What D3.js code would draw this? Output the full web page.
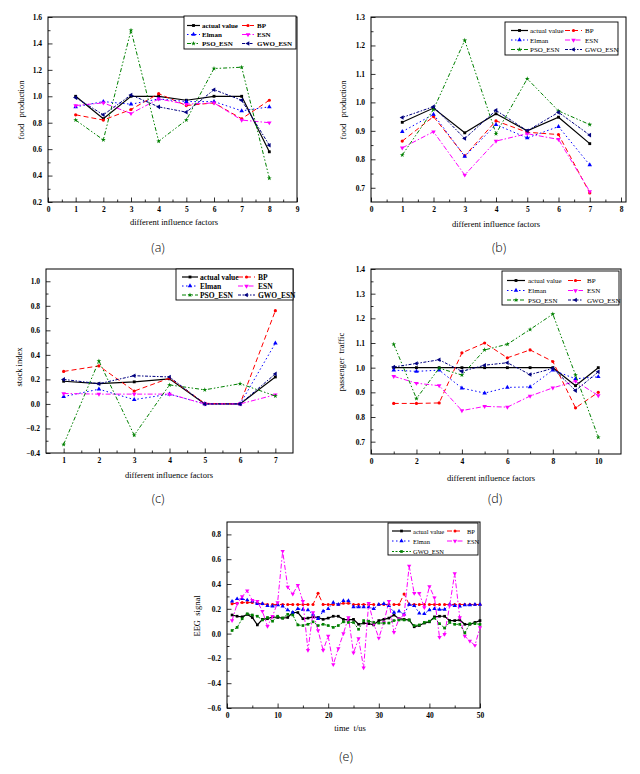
<!DOCTYPE html>
<html>
<head>
<meta charset="utf-8">
<script src="https://cdn.jsdelivr.net/npm/d3@7"></script>
<style>
body { margin: 0; background: #fff; }
svg { display: block; }
</style>
</head>
<body>
<script>
// ---- data ----
var xA = [1, 2, 3, 4, 5, 6, 7, 8];
var actualA = [1.00, 0.83, 1.00, 1.00, 0.97, 1.00, 1.00, 0.58];
var bpA     = [0.86, 0.82, 0.90, 1.02, 0.93, 0.95, 0.83, 0.97];
var elmanA  = [0.92, 0.96, 0.94, 0.98, 0.96, 0.96, 0.89, 0.92];
var esnA    = [0.93, 0.95, 0.87, 0.98, 0.94, 0.95, 0.82, 0.80];
var psoA    = [0.82, 0.67, 1.50, 0.66, 0.82, 1.21, 1.22, 0.38];
var gwoA    = [0.99, 0.86, 1.01, 0.92, 0.88, 1.05, 0.97, 0.63];

var xB = [1, 2, 3, 4, 5, 6, 7];
var actualB = [0.930, 0.980, 0.893, 0.960, 0.900, 0.948, 0.855];
var bpB     = [0.864, 0.950, 0.812, 0.935, 0.895, 0.887, 0.682];
var elmanB  = [0.897, 0.958, 0.810, 0.922, 0.875, 0.915, 0.780];
var esnB    = [0.840, 0.897, 0.745, 0.864, 0.890, 0.870, 0.687];
var psoB    = [0.815, 0.975, 1.218, 0.890, 1.083, 0.970, 0.922];
var gwoB    = [0.947, 0.985, 0.873, 0.972, 0.900, 0.965, 0.885];

var xC = [1, 2, 3, 4, 5, 6, 7];
var actualC = [0.185, 0.165, 0.180, 0.205, 0.000, 0.000, 0.220];
var bpC     = [0.265, 0.310, 0.105, 0.210, 0.005, 0.000, 0.760];
var elmanC  = [0.060, 0.120, 0.035, 0.080, 0.000, 0.000, 0.495];
var esnC    = [0.085, 0.080, 0.080, 0.080, 0.000, 0.000, 0.075];
var psoC    = [-0.330, 0.350, -0.255, 0.155, 0.115, 0.165, 0.065];
var gwoC    = [0.200, 0.165, 0.230, 0.220, 0.000, 0.000, 0.245];

var xD = [1, 2, 3, 4, 5, 6, 7, 8, 9, 10];
var actualD = [1.000, 1.000, 1.000, 1.000, 1.000, 1.000, 1.000, 1.000, 0.927, 1.000];
var bpD     = [0.855, 0.855, 0.857, 1.060, 1.100, 1.040, 1.072, 1.025, 0.837, 0.900];
var elmanD  = [0.990, 0.985, 0.990, 0.917, 0.897, 0.920, 0.922, 0.990, 0.955, 0.963];
var esnD    = [0.965, 0.937, 0.927, 0.826, 0.843, 0.840, 0.885, 0.918, 0.945, 0.887];
var psoD    = [1.095, 0.875, 0.998, 0.970, 1.072, 1.095, 1.155, 1.217, 0.970, 0.718];
var gwoD    = [1.003, 1.017, 1.032, 0.985, 1.010, 1.020, 0.972, 0.997, 0.907, 0.983];

var xE = d3.range(1, 51);
var actualE = [0.150, 0.140, 0.135, 0.155, 0.130, 0.070, 0.115, 0.120, 0.135, 0.130,
               0.125, 0.130, 0.170, 0.170, 0.120, 0.125, 0.135, 0.130, 0.115, 0.125,
               0.140, 0.140, 0.115, 0.110, 0.115, 0.075, 0.085, 0.080, 0.070, 0.105,
               0.115, 0.125, 0.150, 0.120, 0.115, 0.110, 0.055, 0.065, 0.085, 0.095,
               0.135, 0.140, 0.140, 0.105, 0.105, 0.110, 0.075, 0.075, 0.090, 0.105];
var bpE     = [0.240, 0.245, 0.250, 0.250, 0.250, 0.245, 0.240, 0.235, 0.235, 0.235,
               0.235, 0.235, 0.235, 0.235, 0.235, 0.235, 0.235, 0.325, 0.235, 0.235,
               0.235, 0.235, 0.245, 0.245, 0.235, 0.235, 0.235, 0.235, 0.235, 0.235,
               0.235, 0.235, 0.235, 0.235, 0.320, 0.235, 0.235, 0.235, 0.235, 0.235,
               0.235, 0.235, 0.235, 0.235, 0.235, 0.235, 0.235, 0.235, 0.235, 0.235];
var elmanE  = [0.260, 0.280, 0.280, 0.270, 0.260, 0.240, 0.240, 0.225, 0.220, 0.230,
               0.220, 0.190, 0.170, 0.200, 0.195, 0.190, 0.155, 0.120, 0.180, 0.200,
               0.250, 0.235, 0.265, 0.265, 0.215, 0.215, 0.215, 0.215, 0.200, 0.235,
               0.240, 0.225, 0.170, 0.180, 0.155, 0.235, 0.225, 0.165, 0.160, 0.190,
               0.200, 0.195, 0.195, 0.235, 0.225, 0.220, 0.230, 0.230, 0.235, 0.235];
var esnE    = [0.105, 0.240, 0.300, 0.345, 0.270, 0.260, 0.180, 0.060, 0.140, 0.250,
               0.665, 0.375, 0.320, 0.390, 0.260, -0.135, 0.170, 0.025, -0.135, -0.020,
               -0.250, -0.120, 0.000, 0.130, -0.155, -0.040, -0.275, 0.245, 0.080, -0.035,
               0.090, 0.260, 0.010, 0.120, 0.150, 0.545, 0.325, 0.325, 0.210, 0.380,
               0.290, -0.030, -0.005, 0.225, 0.485, 0.130, -0.020, -0.060, -0.095, 0.050];
var gwoE    = [0.025, 0.050, 0.120, 0.160, 0.150, 0.140, 0.110, 0.130, 0.100, 0.140,
               0.125, 0.155, 0.150, 0.070, 0.065, 0.075, 0.095, 0.065, 0.075, 0.065,
               0.050, 0.065, 0.095, 0.090, 0.090, 0.035, 0.105, 0.100, 0.090, 0.085,
               0.085, 0.085, 0.105, 0.110, 0.110, 0.110, 0.065, 0.070, 0.090, 0.100,
               0.125, 0.080, 0.045, 0.090, 0.075, 0.075, 0.005, 0.080, 0.080, 0.075];

// ---- look of each series ----
var styles = {
    actual: {label: 'actual value', color: '#000000', dash: null, sym: d3.symbolSquare, rot: 0, w: 1.2, k: 0.9},
    bp:     {label: 'BP', color: '#ff0000', dash: '5,3', sym: d3.symbolCircle, rot: 0, w: 1, k: 0.9},
    elman:  {label: 'Elman', color: '#0000ff', dash: '1.5,2.5', sym: d3.symbolTriangle, rot: 0, w: 1, k: 1},
    esn:    {label: 'ESN', color: '#ff00ff', dash: '5,2,1.5,2', sym: d3.symbolTriangle, rot: 180, w: 1, k: 1},
    pso:    {label: 'PSO_ESN', color: '#008000', dash: '4,2,1.5,2,1.5,2', sym: d3.symbolStar, rot: 0, w: 1, k: 0.8},
    gwo:    {label: 'GWO_ESN', color: '#000080', dash: '3,1.5,1.5,1.5', sym: d3.symbolTriangle, rot: -90, w: 1, k: 1},
    gwoE:   {label: 'GWO_ESN', color: '#008000', dash: '2,1.5', sym: d3.symbolSquare, rot: 0, w: 1, k: 0.9}
};

var W = 640, H = 774;
var svg = d3.select('body').append('svg').attr('width', W).attr('height', H);

var tickFont = 'Liberation Serif, Times New Roman, serif';

function drawPanel(p) {
    var x = d3.scaleLinear().domain(p.xDomain).range([p.left, p.right]);
    var y = d3.scaleLinear().domain(p.yDomain).range([p.bottom, p.top]);
    var g = svg.append('g');
    var symSize = p.symSize || 9;

    // minor ticks
    g.append('g').attr('transform', 'translate(0,' + p.bottom + ')')
        .call(d3.axisBottom(x).tickValues(p.xMinor).tickSize(-2.5).tickSizeOuter(0).tickFormat(''));
    g.append('g').attr('transform', 'translate(' + p.left + ',0)')
        .call(d3.axisLeft(y).tickValues(p.yMinor).tickSize(-2.5).tickSizeOuter(0).tickFormat(''));

    // major ticks
    g.append('g').attr('transform', 'translate(0,' + p.bottom + ')')
        .call(d3.axisBottom(x).tickValues(p.xTicks).tickSize(-4.5).tickSizeOuter(0).tickPadding(5)
            .tickFormat(d3.format('d')));
    g.append('g').attr('transform', 'translate(' + p.left + ',0)')
        .call(d3.axisLeft(y).tickValues(p.yTicks).tickSize(-4.5).tickSizeOuter(0).tickPadding(6)
            .tickFormat(d3.format('.1f')));
    g.selectAll('.tick text')
        .attr('font-family', tickFont).attr('font-weight', 'bold')
        .attr('font-size', 7.5).attr('fill', '#000');
    g.selectAll('.tick line').attr('stroke', '#000').attr('stroke-width', 0.8);
    g.selectAll('.domain').remove();

    g.append('rect')
        .attr('x', p.left).attr('y', p.top)
        .attr('width', p.right - p.left).attr('height', p.bottom - p.top)
        .attr('fill', 'none').attr('stroke', '#000').attr('stroke-width', 1);

    // series
    p.series.forEach(function (s) {
        var st = styles[s.key];
        var pts = p.xs.map(function (xv, i) { return [xv, s.values[i]]; });
        g.append('path')
            .datum(pts)
            .attr('fill', 'none')
            .attr('stroke', st.color)
            .attr('stroke-width', st.w)
            .attr('stroke-dasharray', st.dash)
            .attr('d', d3.line().x(function (d) { return x(d[0]); }).y(function (d) { return y(d[1]); }));
        g.append('g').selectAll('path')
            .data(pts)
            .join('path')
            .attr('d', d3.symbol().type(st.sym).size(symSize * st.k))
            .attr('transform', function (d) {
                return 'translate(' + x(d[0]) + ',' + y(d[1]) + ') rotate(' + st.rot + ')';
            })
            .attr('fill', st.color);
    });

    // axis titles
    svg.append('text')
        .attr('x', p.xTitlePos[0]).attr('y', p.xTitlePos[1])
        .attr('text-anchor', 'middle')
        .attr('font-family', tickFont).attr('font-size', 8.5)
        .style('white-space', 'pre')
        .text(p.xTitle);
    svg.append('text')
        .attr('transform', 'translate(' + p.yTitlePos[0] + ',' + p.yTitlePos[1] + ') rotate(-90)')
        .attr('text-anchor', 'middle')
        .attr('font-family', tickFont).attr('font-size', 8.5)
        .style('white-space', 'pre')
        .text(p.yTitle);

    // caption
    svg.append('text')
        .attr('x', p.capPos[0]).attr('y', p.capPos[1])
        .attr('text-anchor', 'middle')
        .attr('font-family', 'Open Sans, Liberation Sans, sans-serif')
        .attr('font-weight', 300)
        .attr('font-size', 12.5)
        .text(p.caption);

    // legend
    var L = p.legend;
    var lg = svg.append('g').attr('transform', 'translate(' + L.x + ',' + L.y + ')');
    lg.append('rect').attr('width', L.w).attr('height', L.h)
        .attr('fill', '#fff').attr('stroke', '#000').attr('stroke-width', 0.9);
    p.series.forEach(function (s, i) {
        var st = styles[s.key];
        var col = L.cols[i % 2];
        var ry = L.rows[Math.floor(i / 2)];
        lg.append('line')
            .attr('x1', col[0]).attr('x2', col[1]).attr('y1', ry).attr('y2', ry)
            .attr('stroke', st.color).attr('stroke-width', st.w)
            .attr('stroke-dasharray', st.dash);
        lg.append('path')
            .attr('d', d3.symbol().type(st.sym).size(symSize * st.k))
            .attr('transform', 'translate(' + ((col[0] + col[1]) / 2) + ',' + ry + ') rotate(' + st.rot + ')')
            .attr('fill', st.color);
        lg.append('text')
            .attr('x', col[2]).attr('y', ry + 2.5)
            .attr('font-family', tickFont)
            .attr('font-weight', L.bold ? 'bold' : 'normal')
            .attr('font-size', L.fs || 7.5)
            .text(st.label);
    });
}

function sixSeries(a, b, c, d, e, f) {
    return [
        {key: 'actual', values: a}, {key: 'bp', values: b},
        {key: 'elman', values: c}, {key: 'esn', values: d},
        {key: 'pso', values: e}, {key: 'gwo', values: f}
    ];
}

// (a)
drawPanel({
    left: 48, right: 297, top: 17, bottom: 202,
    xDomain: [0, 9], yDomain: [0.2, 1.6],
    xTicks: d3.range(0, 10), xMinor: d3.range(0.5, 9, 1),
    yTicks: [0.2, 0.4, 0.6, 0.8, 1.0, 1.2, 1.4, 1.6], yMinor: [0.3, 0.5, 0.7, 0.9, 1.1, 1.3, 1.5],
    xs: xA, series: sixSeries(actualA, bpA, elmanA, esnA, psoA, gwoA),
    xTitle: 'different influence factors', xTitlePos: [174, 225],
    yTitle: 'food   production', yTitlePos: [24, 110],
    caption: '(a)', capPos: [158, 252],
    legend: {x: 184, y: 16, w: 112, h: 33, rows: [9.5, 18.5, 27.5],
        cols: [[3, 16, 18], [58, 70, 73]], bold: true, fs: 7}
});

// (b)
drawPanel({
    left: 371, right: 626, top: 17, bottom: 202,
    xDomain: [0, 8.16], yDomain: [0.65, 1.3],
    xTicks: d3.range(0, 9), xMinor: d3.range(0.5, 8, 1),
    yTicks: [0.7, 0.8, 0.9, 1.0, 1.1, 1.2, 1.3], yMinor: [0.75, 0.85, 0.95, 1.05, 1.15, 1.25],
    xs: xB, series: sixSeries(actualB, bpB, elmanB, esnB, psoB, gwoB),
    xTitle: 'different influence factors', xTitlePos: [496, 227],
    yTitle: 'food   production', yTitlePos: [346, 110],
    caption: '(b)', capPos: [499, 252],
    legend: {x: 505, y: 22, w: 113, h: 33, rows: [8.5, 18, 27.5],
        cols: [[6, 23, 25], [60, 77, 80]], bold: false, fs: 7}
});

// (c)
drawPanel({
    left: 46, right: 293, top: 269, bottom: 453,
    xDomain: [0.5, 7.5], yDomain: [-0.4, 1.1],
    xTicks: d3.range(1, 8), xMinor: d3.range(1.5, 7.5, 1),
    yTicks: [-0.4, -0.2, 0.0, 0.2, 0.4, 0.6, 0.8, 1.0], yMinor: [-0.3, -0.1, 0.1, 0.3, 0.5, 0.7, 0.9],
    xs: xC, series: sixSeries(actualC, bpC, elmanC, esnC, psoC, gwoC),
    xTitle: 'different influence factors', xTitlePos: [169, 478],
    yTitle: 'stock index', yTitlePos: [22, 367],
    caption: '(c)', capPos: [158, 503],
    legend: {x: 176, y: 269, w: 117, h: 31, rows: [8, 17, 26],
        cols: [[6, 22, 24], [62, 79, 82]], bold: true, fs: 7.5}
});

// (d)
drawPanel({
    left: 371, right: 621, top: 269, bottom: 454,
    xDomain: [0, 11], yDomain: [0.65, 1.4],
    xTicks: [0, 2, 4, 6, 8, 10], xMinor: [1, 3, 5, 7, 9],
    yTicks: [0.7, 0.8, 0.9, 1.0, 1.1, 1.2, 1.3, 1.4], yMinor: [0.75, 0.85, 0.95, 1.05, 1.15, 1.25, 1.35],
    xs: xD, series: sixSeries(actualD, bpD, elmanD, esnD, psoD, gwoD),
    xTitle: 'different influence factors', xTitlePos: [491, 481],
    yTitle: 'passenger  traffic', yTitlePos: [344, 362],
    caption: '(d)', capPos: [495, 503],
    legend: {x: 502, y: 271, w: 117, h: 34, rows: [9.5, 19.5, 29],
        cols: [[5, 23, 26], [66, 81, 85]], bold: false, fs: 7}
});

// (e)
drawPanel({
    left: 227, right: 480, top: 522, bottom: 708,
    xDomain: [0, 50], yDomain: [-0.6, 0.9],
    xTicks: [0, 10, 20, 30, 40, 50], xMinor: [5, 15, 25, 35, 45],
    yTicks: [-0.6, -0.4, -0.2, 0.0, 0.2, 0.4, 0.6, 0.8], yMinor: [-0.5, -0.3, -0.1, 0.1, 0.3, 0.5, 0.7],
    xs: xE, symSize: 8,
    series: [
        {key: 'actual', values: actualE}, {key: 'bp', values: bpE},
        {key: 'elman', values: elmanE}, {key: 'esn', values: esnE},
        {key: 'gwoE', values: gwoE}
    ],
    xTitle: 'time  t/us', xTitlePos: [350, 731],
    yTitle: 'EEG  signal', yTitlePos: [200, 616],
    caption: '(e)', capPos: [346, 761],
    legend: {x: 388, y: 523, w: 90, h: 32, rows: [8, 18, 28.5],
        cols: [[4, 23, 25], [59, 75, 79]], bold: false, fs: 6.5}
});
</script>
</body>
</html>
